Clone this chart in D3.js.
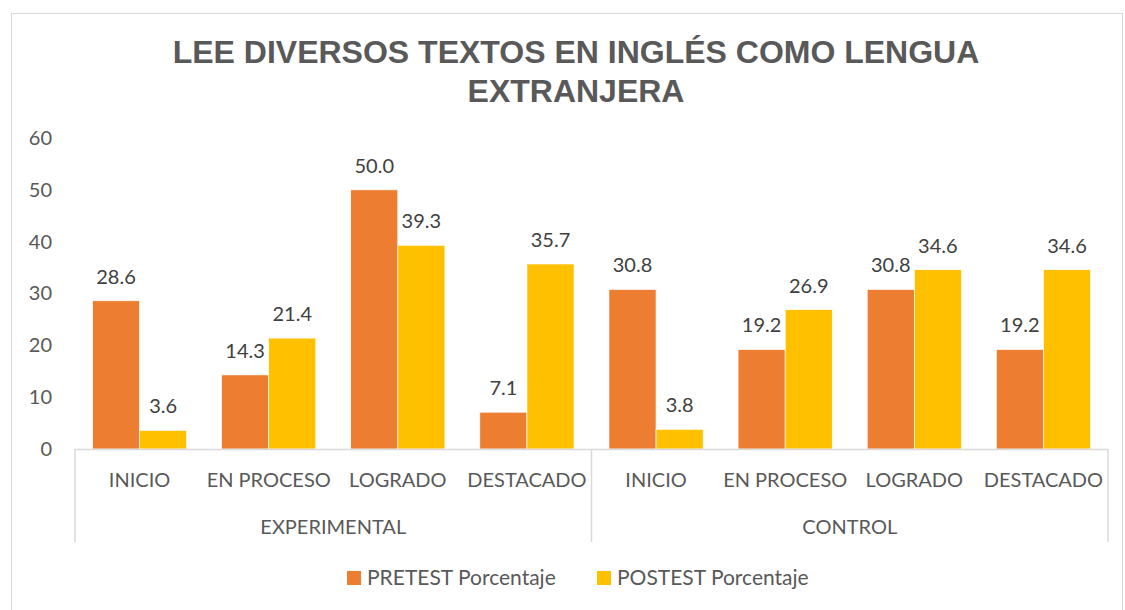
<!DOCTYPE html>
<html>
<head>
<meta charset="utf-8">
<style>
    body { margin: 0; background: #fff; }
    svg { display: block; }
    .title { font-family: 'Liberation Sans', Arial, sans-serif; font-weight: bold; font-size: 32px; fill: #595959; }
    .tick text, .cat, .grp { font-family: Lato, 'Open Sans', sans-serif; font-size: 20px; fill: #595959; }
    .legend text { font-family: Lato, 'Open Sans', sans-serif; font-size: 21px; fill: #595959; }
    .val { font-family: Lato, 'Open Sans', sans-serif; font-size: 20px; fill: #404040; }
</style>
</head>
<body>
<svg width="1125" height="610"></svg>
<script src="https://d3js.org/d3.v7.min.js"></script>
<script>
    let groups = ["EXPERIMENTAL", "CONTROL"]
    let levels = ["INICIO", "EN PROCESO", "LOGRADO", "DESTACADO"]
    let series = ["PRETEST Porcentaje", "POSTEST Porcentaje"]
    let pretest = [28.6, 14.3, 50.0, 7.1, 30.8, 19.2, 30.8, 19.2]
    let postest = [3.6, 21.4, 39.3, 35.7, 3.8, 26.9, 34.6, 34.6]
    let yTicks = [0, 10, 20, 30, 40, 50, 60]
    let colors = ["#ed7d31", "#ffc000"]

    let svg = d3.select("svg")
    let margin = { top: 138, left: 75, right: 17, bottom: 161 }
    let width = 1125, height = 610

    // outer chart border
    svg.append("rect")
        .attr("x", 11.5).attr("y", 13.5)
        .attr("width", 1111).attr("height", 620)
        .attr("fill", "none").attr("stroke", "#d9d9d9")

    svg.append("text").attr("class", "title")
        .attr("x", 576).attr("y", 63).attr("text-anchor", "middle")
        .text("LEE DIVERSOS TEXTOS EN INGLÉS COMO LENGUA")
    svg.append("text").attr("class", "title")
        .attr("x", 576).attr("y", 102).attr("text-anchor", "middle")
        .text("EXTRANJERA")

    let keys = []
    groups.forEach(g => levels.forEach(l => keys.push(g + "|" + l)))

    let x = d3.scaleBand()
        .domain(keys)
        .range([margin.left, width - margin.right])
        .paddingInner(0)
        .paddingOuter(0)

    let inner = d3.scaleBand()
        .domain([0, 1])
        .range([0, x.bandwidth()])
        .paddingOuter(0.37)
        .paddingInner(0)

    let y = d3.scaleLinear()
        .domain([0, 60])
        .range([height - margin.bottom, margin.top])

    let yAxis = svg.append("g")
        .attr("transform", `translate(${margin.left - 4},0)`)
        .call(d3.axisLeft(y).tickValues(yTicks).tickSize(0).tickPadding(19))
    yAxis.select(".domain").remove()

    let data = keys.map((k, i) => ({ key: k, vals: [pretest[i], postest[i]] }))

    let cat = svg.append("g").selectAll("g")
        .data(data)
        .join("g")
        .attr("transform", d => `translate(${x(d.key)},0)`)

    cat.selectAll("rect")
        .data(d => d.vals)
        .join("rect")
        .attr("x", (v, j) => inner(j))
        .attr("width", inner.bandwidth())
        .attr("y", v => y(v))
        .attr("height", v => y(0) - y(v))
        .attr("fill", (v, j) => colors[j])
        .attr("stroke", "#fff")
        .attr("stroke-width", 0.7)

    cat.selectAll(".val")
        .data(d => d.vals)
        .join("text")
        .attr("class", "val")
        .attr("x", (v, j) => inner(j) + inner.bandwidth() / 2)
        .attr("y", v => y(v) - 17)
        .attr("text-anchor", "middle")
        .text(v => d3.format(".1f")(v))

    // category axis
    let y0 = y(0)
    let axisCol = "#d9d9d9"
    svg.append("line")
        .attr("x1", margin.left).attr("x2", width - margin.right)
        .attr("y1", y0 + 0.5).attr("y2", y0 + 0.5)
        .attr("stroke", axisCol).attr("stroke-width", 1.5)

    let bounds = [keys[0], keys[4]].map(k => x(k)).concat([width - margin.right])
    svg.selectAll(".sep")
        .data(bounds)
        .join("line")
        .attr("x1", d => d).attr("x2", d => d)
        .attr("y1", y0).attr("y2", y0 + 93)
        .attr("stroke", axisCol).attr("stroke-width", 1.5)

    svg.selectAll(".cat")
        .data(data)
        .join("text")
        .attr("class", "cat")
        .attr("x", d => x(d.key) + x.bandwidth() / 2)
        .attr("y", y0 + 38)
        .attr("text-anchor", "middle")
        .text(d => d.key.split("|")[1])

    svg.selectAll(".grp")
        .data(groups)
        .join("text")
        .attr("class", "grp")
        .attr("x", g => x(g + "|" + levels[0]) + x.bandwidth() * 2)
        .attr("y", y0 + 85)
        .attr("text-anchor", "middle")
        .text(g => g)

    // legend
    let legX = [347, 597]
    let legend = svg.selectAll(".legend")
        .data(series)
        .join("g")
        .attr("class", "legend")
        .attr("transform", (d, i) => `translate(${legX[i]},571)`)
    legend.append("rect")
        .attr("width", 14).attr("height", 14)
        .attr("fill", (d, i) => colors[i])
    legend.append("text")
        .attr("x", 20).attr("y", 14)
        .text(d => d)
</script>
</body>
</html>
